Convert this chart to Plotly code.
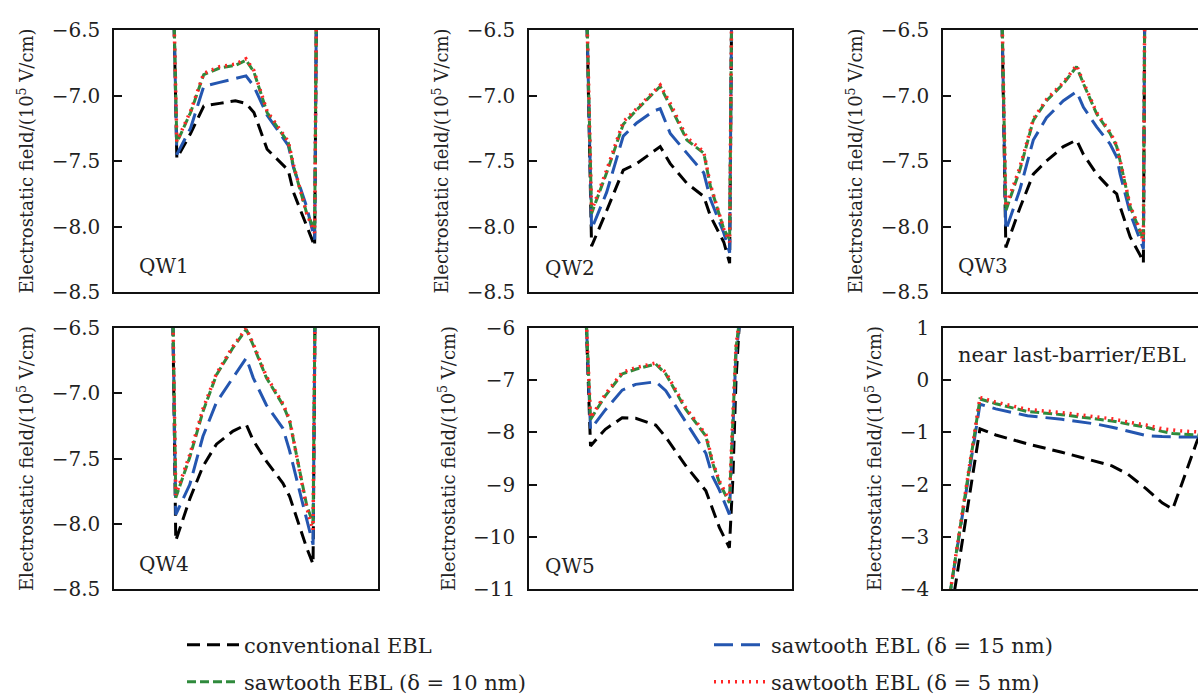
import plotly.graph_objects as go

# ---------------- data ----------------
series_names = ["conventional EBL", "sawtooth EBL (δ = 15 nm)",
                "sawtooth EBL (δ = 10 nm)", "sawtooth EBL (δ = 5 nm)"]

# QW1
x_qw1 = [22.3, 23.8, 29, 34, 40, 46, 50, 53, 58, 66, 68, 73, 76, 76.8]
qw1_conv = [-6.0, -7.48, -7.29, -7.08, -7.06, -7.04, -7.06, -7.13, -7.41, -7.57, -7.74, -7.99, -8.15, -6.0]
qw1_d15 = [-6.0, -7.45, -7.25, -6.93, -6.90, -6.87, -6.85, -6.93, -7.15, -7.38, -7.55, -7.85, -8.10, -6.0]
qw1_d10 = [-6.0, -7.36, -7.13, -6.84, -6.79, -6.77, -6.73, -6.82, -7.13, -7.36, -7.54, -7.90, -8.02, -6.0]
qw1_d5 = [-6.0, -7.35, -7.12, -6.83, -6.78, -6.76, -6.72, -6.81, -7.12, -7.35, -7.53, -7.90, -8.05, -6.0]

# QW2
x_qw2 = [21.5, 23.7, 29.4, 35.7, 40.8, 47.1, 49.7, 53.5, 59.8, 66.2, 68.7, 73.8, 76.0, 76.9]
qw2_conv = [-6.0, -8.15, -7.88, -7.57, -7.52, -7.43, -7.39, -7.52, -7.67, -7.77, -7.92, -8.12, -8.28, -6.0]
qw2_d15 = [-6.0, -8.02, -7.74, -7.31, -7.21, -7.12, -7.10, -7.29, -7.44, -7.59, -7.79, -8.05, -8.20, -6.0]
qw2_d10 = [-6.0, -7.90, -7.59, -7.22, -7.11, -6.98, -6.93, -7.08, -7.34, -7.44, -7.69, -8.02, -8.10, -6.0]
qw2_d5 = [-6.0, -7.88, -7.57, -7.20, -7.10, -6.97, -6.92, -7.06, -7.32, -7.43, -7.68, -8.02, -8.12, -6.0]

# QW3
x_qw3 = [22.0, 23.8, 29.1, 34.2, 39.2, 45.6, 50.6, 53.2, 58.2, 63.3, 65.8, 67.1, 70.9, 74.7, 75.9, 76.5]
qw3_conv = [-6.0, -8.16, -7.86, -7.60, -7.50, -7.39, -7.34, -7.45, -7.60, -7.71, -7.75, -7.85, -8.08, -8.22, -8.28, -6.0]
qw3_d15 = [-6.0, -8.03, -7.72, -7.34, -7.17, -7.04, -6.97, -7.09, -7.24, -7.37, -7.47, -7.60, -7.90, -8.10, -8.17, -6.0]
qw3_d10 = [-6.0, -7.88, -7.57, -7.19, -7.04, -6.91, -6.78, -6.91, -7.14, -7.29, -7.39, -7.50, -7.85, -8.03, -8.10, -6.0]
qw3_d5 = [-6.0, -7.85, -7.55, -7.18, -7.03, -6.90, -6.77, -6.90, -7.13, -7.28, -7.38, -7.49, -7.84, -8.03, -8.12, -6.0]

# QW4
x_qw4 = [22.0, 23.4, 28.7, 33.7, 38.8, 45.1, 50.1, 52.7, 57.7, 64.0, 66.5, 70.3, 72.9, 75.4, 76.3]
qw4_conv = [-6.0, -8.13, -7.81, -7.56, -7.39, -7.29, -7.24, -7.36, -7.52, -7.69, -7.79, -8.02, -8.18, -8.31, -6.0]
qw4_d15 = [-6.0, -7.93, -7.70, -7.33, -7.07, -6.88, -6.73, -6.88, -7.09, -7.27, -7.44, -7.75, -7.95, -8.16, -6.0]
qw4_d10 = [-6.0, -7.80, -7.49, -7.14, -6.86, -6.65, -6.51, -6.63, -6.88, -7.09, -7.21, -7.60, -7.85, -8.00, -6.0]
qw4_d5 = [-6.0, -7.78, -7.47, -7.12, -6.85, -6.64, -6.50, -6.62, -6.87, -7.08, -7.20, -7.60, -7.87, -8.05, -6.0]

# QW5
x_qw5 = [21.4, 23.3, 28.9, 35.3, 40.4, 48.0, 51.8, 59.4, 67.0, 69.5, 72.1, 75.9, 77.2, 78.4, 79.8]
qw5_conv = [-5.5, -8.26, -7.94, -7.72, -7.73, -7.86, -8.09, -8.64, -9.12, -9.46, -9.82, -10.21, -8.9, -7.0, -5.8]
qw5_d15 = [-5.5, -7.94, -7.57, -7.19, -7.08, -7.03, -7.20, -7.81, -8.40, -8.84, -9.10, -9.57, -8.1, -6.5, -5.9]
qw5_d10 = [-5.5, -7.75, -7.30, -6.88, -6.79, -6.69, -6.88, -7.56, -8.07, -8.58, -8.96, -9.35, -7.8, -6.4, -5.8]
qw5_d5 = [-5.5, -7.72, -7.27, -6.85, -6.76, -6.67, -6.85, -7.53, -8.04, -8.55, -8.93, -9.30, -7.7, -6.35, -5.8]

# near last-barrier / EBL
x_ebl = [2.0, 14.0, 20, 32, 45, 58, 64, 70, 77, 83, 87, 90, 96, 100]
ebl_conv = [-4.8, -0.93, -1.05, -1.22, -1.38, -1.55, -1.64, -1.80, -2.08, -2.35, -2.47, -2.05, -1.20, -0.70]
ebl_d15 = [-4.3, -0.46, -0.55, -0.68, -0.75, -0.84, -0.90, -0.97, -1.06, -1.08, -1.09, -1.09, -1.09, -1.09]
ebl_d10 = [-4.3, -0.36, -0.45, -0.60, -0.66, -0.74, -0.78, -0.84, -0.90, -0.98, -1.02, -1.03, -1.05, -1.06]
ebl_d5 = [-4.3, -0.33, -0.42, -0.56, -0.62, -0.70, -0.74, -0.80, -0.86, -0.93, -0.96, -0.97, -0.99, -1.00]

panel_labels = ["QW1", "QW2", "QW3", "QW4", "QW5", "near last-barrier/EBL"]
y_ticks_qw = [-8.5, -8.0, -7.5, -7.0, -6.5]
y_ticks_qw5 = [-11, -10, -9, -8, -7, -6]
y_ticks_ebl = [-4, -3, -2, -1, 0, 1]

# ---------------- styling ----------------
W, H = 1198, 697
FONT = "DejaVu Serif"
styles = [
    dict(color="#000000", width=3, dash="13px,7px"),
    dict(color="#2456b0", width=3, dash="19px,8px"),
    dict(color="#2f8a3c", width=3, dash="9px,4px"),
    dict(color="#ff2626", width=3.5, dash="2px,5px"),
]

panels = [
    (x_qw1, [qw1_conv, qw1_d15, qw1_d10, qw1_d5]),
    (x_qw2, [qw2_conv, qw2_d15, qw2_d10, qw2_d5]),
    (x_qw3, [qw3_conv, qw3_d15, qw3_d10, qw3_d5]),
    (x_qw4, [qw4_conv, qw4_d15, qw4_d10, qw4_d5]),
    (x_qw5, [qw5_conv, qw5_d15, qw5_d10, qw5_d5]),
    (x_ebl, [ebl_conv, ebl_d15, ebl_d10, ebl_d5]),
]

# pixel boxes of the plotting areas (left, right, top, bottom)
col_px = [(114, 378), (529, 792), (943, 1198)]
row_px = [(30, 292), (328, 589)]
yranges = [[-8.5, -6.5], [-8.5, -6.5], [-8.5, -6.5], [-8.5, -6.5], [-11, -6], [-4, 1]]
ytickvals = [y_ticks_qw, y_ticks_qw, y_ticks_qw, y_ticks_qw, y_ticks_qw5, y_ticks_ebl]
label_pos = [(137, 266), (543, 268), (956, 266), (137, 564), (543, 566), (956, 355)]
label_size = [20, 20, 20, 20, 20, 21]

fig = go.Figure()
layout = dict(
    width=W, height=H, margin=dict(l=0, r=0, t=0, b=0, autoexpand=False),
    paper_bgcolor="white", plot_bgcolor="white",
    font=dict(family=FONT, color="#222222"),
    annotations=[],
)

for i, (xs, ys_list) in enumerate(panels):
    r, c = divmod(i, 3)
    n = i + 1
    xa = "x" if n == 1 else f"x{n}"
    ya = "y" if n == 1 else f"y{n}"
    for k, ys in enumerate(ys_list):
        fig.add_trace(go.Scatter(
            x=xs, y=ys, mode="lines", name=series_names[k],
            line=styles[k], xaxis=xa, yaxis=ya,
            showlegend=(i == 0), legend=("legend" if k < 2 else "legend2"),
        ))
    l, rr = col_px[c]
    t, b = row_px[r]
    xrange_max = (rr - l) / 264.0 * 100.0
    layout["xaxis" if n == 1 else f"xaxis{n}"] = dict(
        domain=[l / W, rr / W], range=[0, xrange_max], anchor=ya,
        showline=True, linecolor="#111111", linewidth=1.5, mirror=True,
        showticklabels=False, ticks="", showgrid=False, zeroline=False,
    )
    yr = yranges[i]
    tv = ytickvals[i]
    fmt = ".1f" if i < 4 else "d"
    layout["yaxis" if n == 1 else f"yaxis{n}"] = dict(
        domain=[1 - b / H, 1 - t / H], range=yr, anchor=xa,
        showline=True, linecolor="#111111", linewidth=1.5, mirror=(c < 2),
        ticks="inside", ticklen=8, tickwidth=1.5, tickcolor="#111111",
        tickvals=tv, tickformat=fmt, ticklabelstandoff=8,
        tickfont=dict(size=20, family=FONT, color="#222222"),
        showgrid=False, zeroline=False,
        title=dict(text="Electrostatic field/(10<sup>5</sup> V/cm)",
                   font=dict(size=18, family=FONT, color="#222222"), standoff=13),
    )
    lx, ly = label_pos[i]
    layout["annotations"].append(dict(
        text=panel_labels[i], xref="paper", yref="paper",
        x=lx / W, y=1 - ly / H, xanchor="left", yanchor="middle",
        showarrow=False, font=dict(size=label_size[i], family=FONT, color="#222222"),
    ))

legend_common = dict(
    orientation="h", xanchor="left", yanchor="middle",
    entrywidth=460, entrywidthmode="pixels", itemwidth=52,
    font=dict(size=21, family=FONT, color="#222222"),
    bgcolor="rgba(0,0,0,0)", traceorder="normal",
)
layout["legend"] = dict(legend_common, x=182 / W, y=1 - 645 / H)
layout["legend2"] = dict(legend_common, x=182 / W, y=1 - 682 / H)

fig.update_layout(**layout)
fig.write_html("out.html")
